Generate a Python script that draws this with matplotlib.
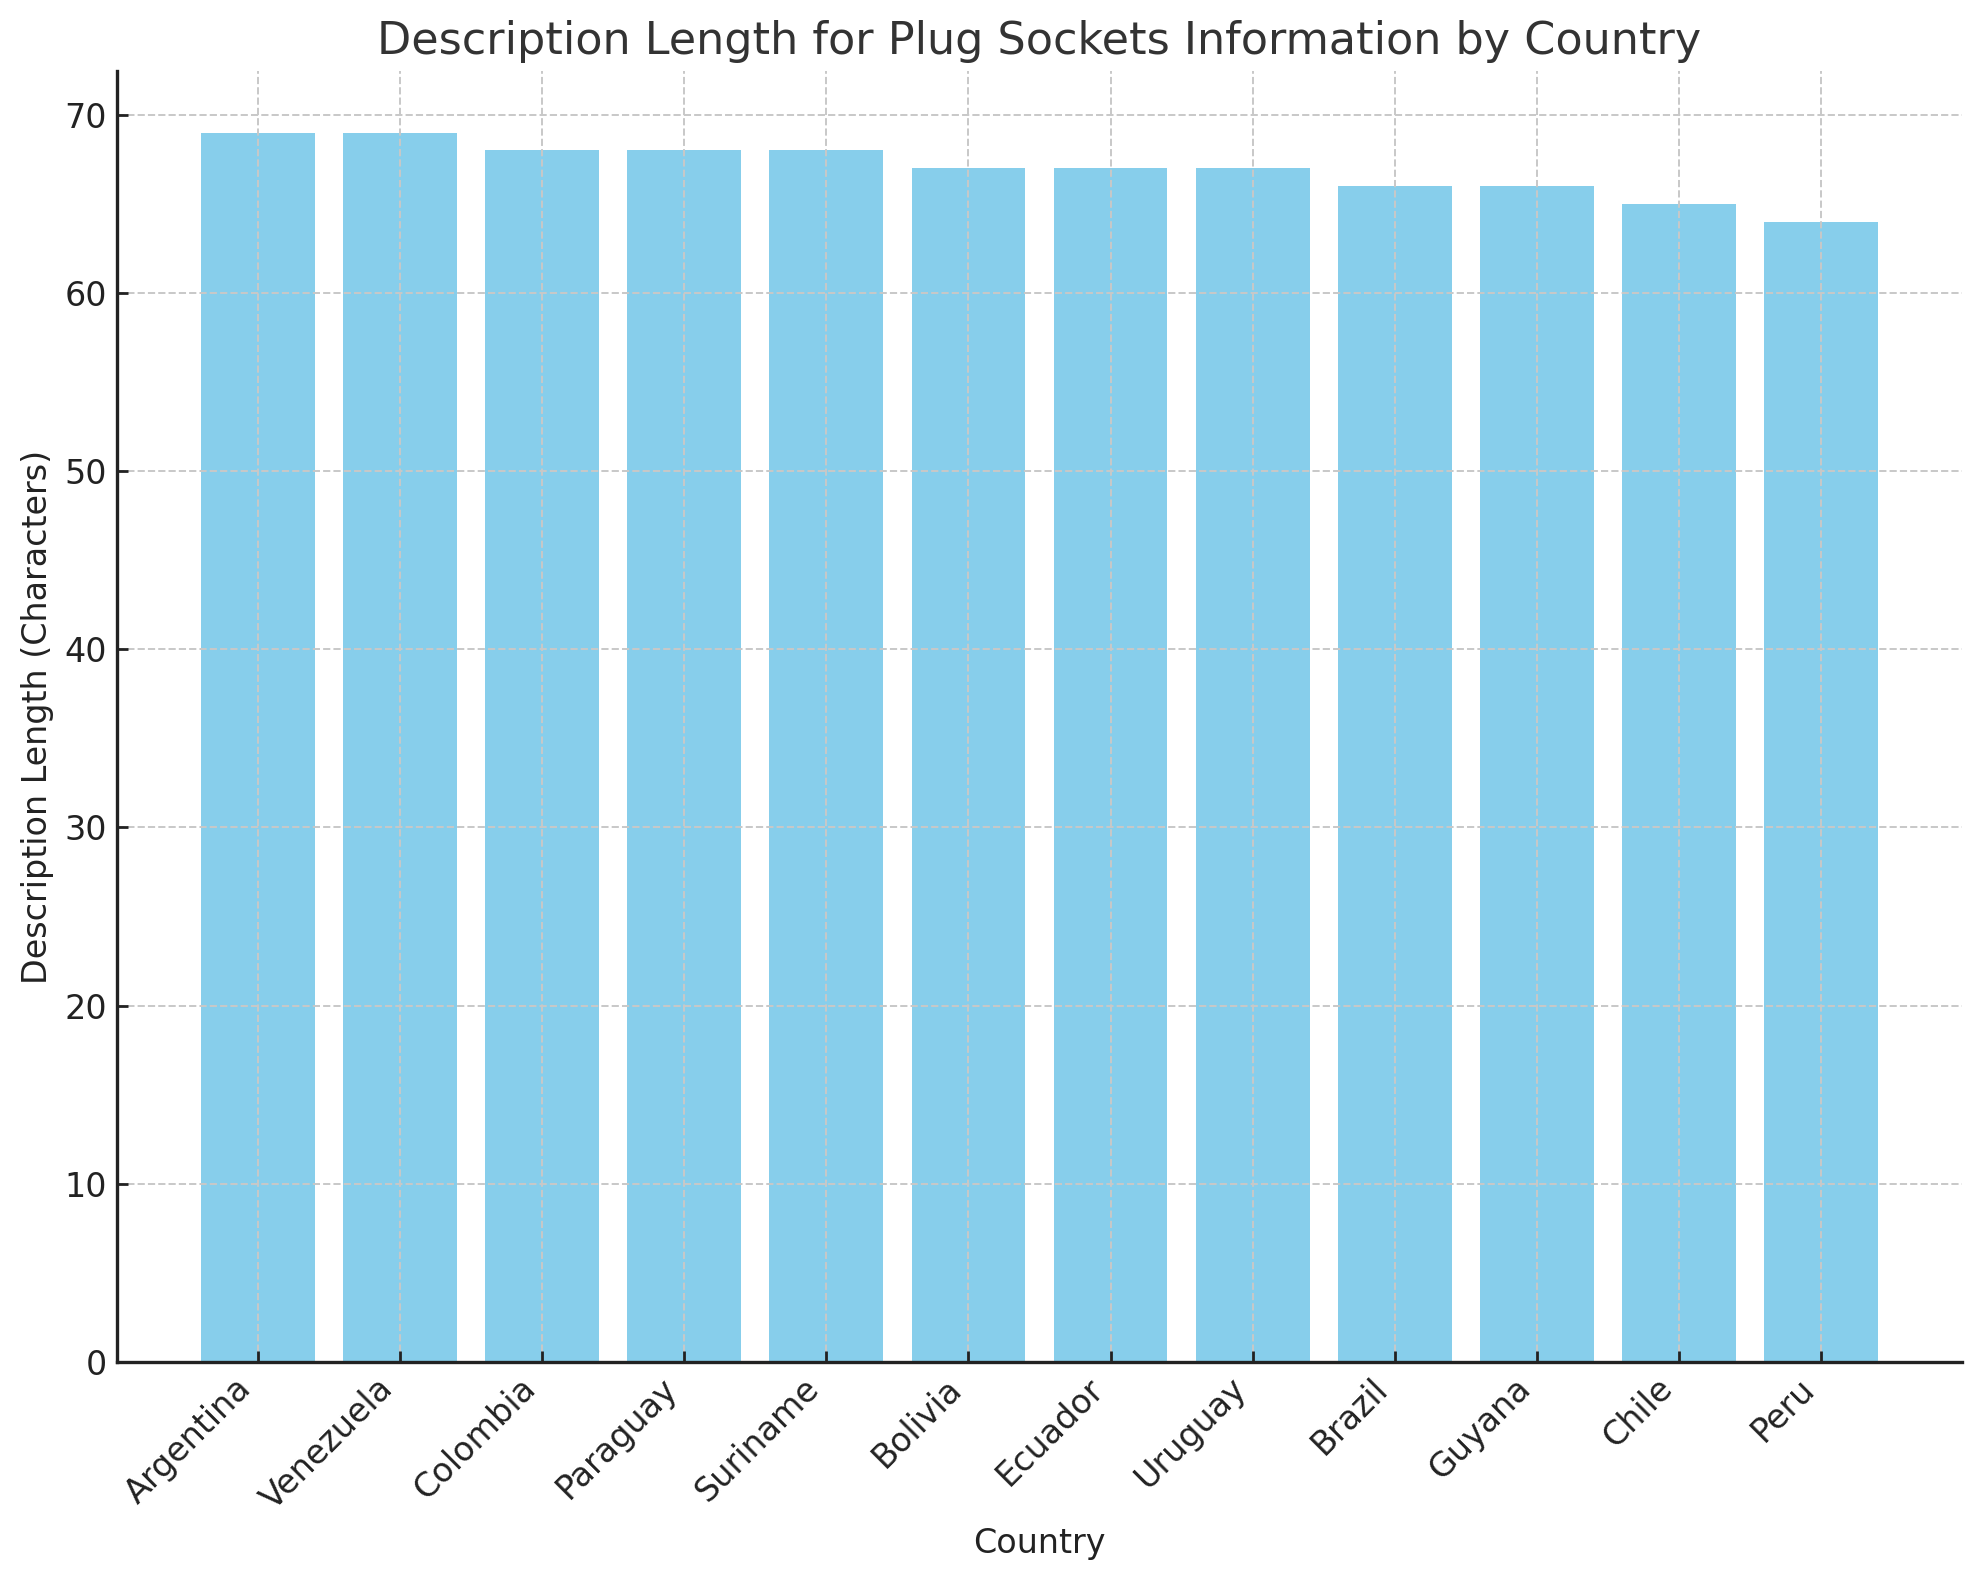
import matplotlib
matplotlib.use("Agg")
import matplotlib.pyplot as plt

countries = ["Argentina", "Venezuela", "Colombia", "Paraguay", "Suriname", "Bolivia",
             "Ecuador", "Uruguay", "Brazil", "Guyana", "Chile", "Peru"]
desc_lengths = [69, 69, 68, 68, 68, 67, 67, 67, 66, 66, 65, 64]

plt.rcParams['font.family'] = ['DejaVu Sans']

fig = plt.figure(figsize=(9.895, 7.9), dpi=200)
ax = fig.add_axes([0.0591, 0.138, 0.9323, 0.817])

ax.bar(countries, desc_lengths, color='skyblue', zorder=1)
ax.grid(True, linestyle='--', color='#c8c8c8', linewidth=0.7, zorder=2)
ax.set_axisbelow(False)

ax.set_title('Description Length for Plug Sockets Information by Country',
             fontsize=16, color='#333333')
ax.set_xlabel('Country', fontsize=12, color='#222222')
ax.set_ylabel('Description Length (Characters)', fontsize=12, color='#222222')
ax.tick_params(axis='both', labelsize=12, colors='#222222', direction='in',
               length=4, width=1.0)
plt.setp(ax.get_xticklabels(), rotation=45, ha='right')

ax.spines['top'].set_visible(False)
ax.spines['right'].set_visible(False)
for s in ('left', 'bottom'):
    ax.spines[s].set_linewidth(1.2)
    ax.spines[s].set_color('#222222')
    ax.spines[s].set_zorder(5)

fig.savefig('out.png', dpi=200)
